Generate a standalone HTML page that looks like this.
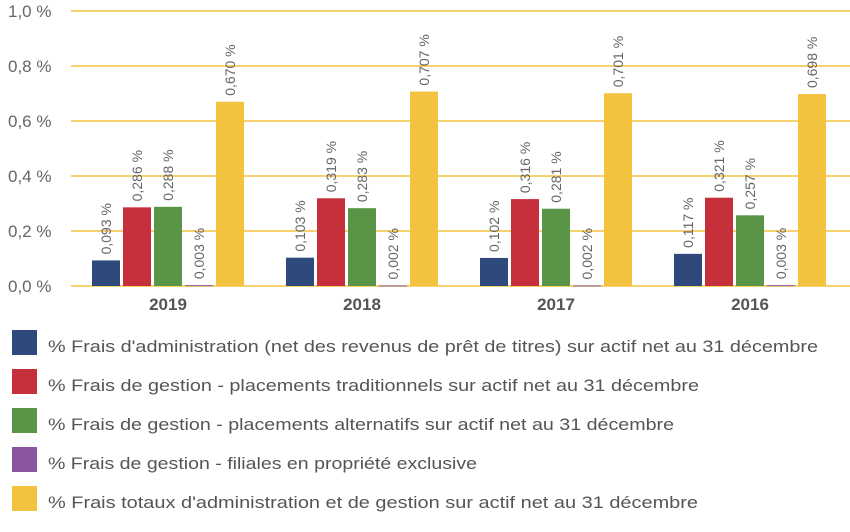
<!DOCTYPE html>
<html><head><meta charset="utf-8"><style>
html,body{margin:0;padding:0;background:#fff;}
svg{display:block;font-family:"Liberation Sans",sans-serif;}
</style></head><body>
<svg id="chart" width="850" height="532" viewBox="0 0 850 532" xmlns="http://www.w3.org/2000/svg"></svg>
<script>
const categories = ["2019","2018","2017","2016"];
const seriesNames = [
 "% Frais d'administration (net des revenus de prêt de titres) sur actif net au 31 décembre",
 "% Frais de gestion - placements traditionnels sur actif net au 31 décembre",
 "% Frais de gestion - placements alternatifs sur actif net au 31 décembre",
 "% Frais de gestion - filiales en propriété exclusive",
 "% Frais totaux d'administration et de gestion sur actif net au 31 décembre"
];
const adminValues = [0.093,0.103,0.102,0.117];
const tradValues = [0.286,0.319,0.316,0.321];
const altValues = [0.288,0.283,0.281,0.257];
const subsValues = [0.003,0.002,0.002,0.003];
const totalValues = [0.670,0.707,0.701,0.698];
const yTicks = [0,0.2,0.4,0.6,0.8,1.0];
const yTickLabels = ["0,0 %","0,2 %","0,4 %","0,6 %","0,8 %","1,0 %"];
const colors = ["#2e4a7d","#c6303a","#5a9446","#8b55a0","#f3c23e"];
const legendWidths = [770,651,626,429,650];

const series = [adminValues,tradValues,altValues,subsValues,totalValues];
const NS="http://www.w3.org/2000/svg";
const svg=document.getElementById('chart');
const y0=286, y1=11, plotL=71, plotR=850;
function yScale(v){return y0-(v/1.0)*(y0-y1);}
const groupStart=92, groupStep=194, barStep=31, barW=28;
function xBar(g,s){return groupStart+g*groupStep+s*barStep;}
function mk(tag,attrs,parent){const e=document.createElementNS(NS,tag);for(const k in attrs)e.setAttribute(k,attrs[k]);(parent||svg).appendChild(e);return e;}

yTicks.forEach((t,i)=>{
  const y=yScale(t);
  const l=mk('line',{x1:plotL,x2:plotR,y1:y,y2:y,stroke:'#f3c23e','stroke-width':1.5});
  
  
  const tx=mk('text',{x:8,y:y+6,'font-size':17,fill:'#666'});
  tx.textContent=yTickLabels[i];
  
  
});

categories.forEach((c,g)=>{
  series.forEach((vals,s)=>{
    const v=vals[g];
    const x=xBar(g,s), y=yScale(v);
    const r=mk('rect',{x:x,y:y,width:barW,height:Math.max(y0-y,1),fill:colors[s]});
    
    
    const lx=x+barW/2+5, ly=y-6;
    const t=mk('text',{x:lx,y:ly,'font-size':14,fill:'#666',transform:'rotate(-90 '+lx+' '+ly+')'});
    t.textContent=v.toFixed(3).replace('.',',')+' %';
    
    
  });
  const cx=xBar(g,2)+barW/2;
  const ct=mk('text',{x:cx,y:310,'font-size':17,'font-weight':'bold',fill:'#555','text-anchor':'middle'});
  ct.textContent=c;
  
  
});

seriesNames.forEach((n,i)=>{
  const gy=330+i*39;
  const g=mk('g',{});
  
  
  const sw=mk('rect',{x:12,y:gy,width:25,height:25,fill:colors[i]},g);
  
  
  const t=mk('text',{x:48,y:gy+22,'font-size':17,fill:'#555',textLength:legendWidths[i],lengthAdjust:'spacingAndGlyphs'},g);
  t.textContent=n;
  
  
});
</script>
</body></html>
